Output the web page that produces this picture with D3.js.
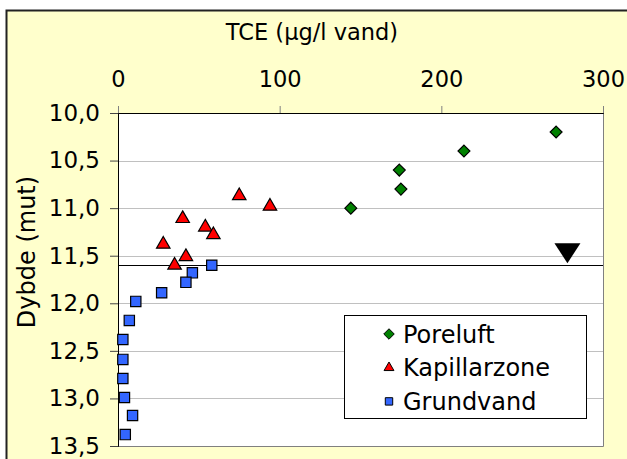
<!DOCTYPE html>
<html lang="da">
    <head>
        <meta charset="utf-8"/>
        <script src="https://d3js.org/d3.v7.min.js"></script>
        <style>
            body { margin: 0; background: #fff; }
            text { font-family: "DejaVu Sans", Verdana, sans-serif; fill: #000; }
        </style>
    </head>
    <body>
        <div id="chart"></div>
    </body>
    <script>
        // TCE koncentration mod dybde
        var xTicks = [0, 100, 200, 300];
        var yTicks = [10.0, 10.5, 11.0, 11.5, 12.0, 12.5, 13.0, 13.5];

        var poreluftTCE   = [271, 214, 174, 175, 144];
        var poreluftDybde = [10.2, 10.4, 10.6, 10.8, 11.0];

        var kapillarTCE   = [75, 94, 40, 54, 59, 28, 42, 35];
        var kapillarDybde = [10.87, 10.98, 11.11, 11.2, 11.28, 11.38, 11.51, 11.6];

        var grundvandTCE   = [58, 46, 42, 27, 11, 7, 3, 3, 3, 4, 9, 4.5];
        var grundvandDybde = [11.6, 11.68, 11.78, 11.89, 11.98, 12.18, 12.38, 12.59, 12.79, 12.99, 13.18, 13.38];

        var vandspejl = 11.6;
        var vandspejlX = 278;

        var series = ["Poreluft", "Kapillarzone", "Grundvand"];

        var width = 627, height = 459;
        var margin = {top: 113, right: 24, bottom: 13, left: 118};
        var w = width - margin.left - margin.right;
        var h = height - margin.top - margin.bottom;

        var svg = d3.select("#chart")
            .append("svg")
                .attr("width", width)
                .attr("height", height);

        // chart area
        svg.append("rect")
            .attr("x", 6.5).attr("y", 10.5)
            .attr("width", width + 20).attr("height", height + 20)
            .attr("fill", "#ffffcc")
            .attr("stroke", "#222")
            .attr("stroke-width", 2);

        var g = svg.append("g")
            .attr("transform", "translate(" + margin.left + "," + margin.top + ")");

        var x = d3.scaleLinear().domain([0, 300]).range([0, w]);
        var y = d3.scaleLinear().domain([10, 13.5]).range([0, h]);

        g.append("rect")
            .attr("width", w).attr("height", h)
            .attr("fill", "#fff");

        // gridlines
        g.append("g")
            .selectAll("line")
            .data(yTicks.slice(1, -1))
            .enter()
            .append("line")
                .attr("x1", 0).attr("x2", w)
                .attr("y1", function (d) { return Math.round(y(d)) + 0.5; })
                .attr("y2", function (d) { return Math.round(y(d)) + 0.5; })
                .attr("stroke", "#c0c0c0");

        // right + bottom border
        g.append("path")
            .attr("d", "M" + (w + 0.5) + ",0V" + (h + 0.5) + "H0")
            .attr("fill", "none")
            .attr("stroke", "#808080");

        var fmt = function (d) { return d3.format(".1f")(d).replace(".", ","); };

        var xAxis = g.append("g")
            .call(d3.axisTop(x).tickValues(xTicks).tickSize(7).tickPadding(19));
        xAxis.selectAll("text").style("font-size", "22.5px");
        xAxis.selectAll(".tick line").attr("stroke", "#808080");
        xAxis.select(".domain").attr("stroke", "#000");

        var yAxis = g.append("g")
            .call(d3.axisLeft(y).tickValues(yTicks).tickFormat(fmt).tickSize(8).tickPadding(10));
        yAxis.selectAll("text").style("font-size", "23px");
        yAxis.selectAll(".tick line").attr("stroke", "#444");
        yAxis.select(".domain").attr("stroke", "#000");

        svg.append("text")
            .attr("x", 312).attr("y", 40)
            .attr("text-anchor", "middle")
            .style("font-size", "22.5px")
            .text("TCE (μg/l vand)");

        svg.append("text")
            .attr("transform", "translate(35,252) rotate(-90)")
            .attr("text-anchor", "middle")
            .style("font-size", "24px")
            .text("Dybde (mut)");

        // vandspejl
        g.append("line")
            .attr("x1", 0).attr("x2", w)
            .attr("y1", Math.round(y(vandspejl)) + 0.5)
            .attr("y2", Math.round(y(vandspejl)) + 0.5)
            .attr("stroke", "#000");

        g.append("path")
            .attr("transform", "translate(" + x(vandspejlX) + "," + y(vandspejl) + ")")
            .attr("d", "M0,-2L-13,-22H13Z")
            .attr("fill", "#000");

        var diamond = d3.symbol().type(d3.symbolDiamond2);
        var triangle = d3.symbol().type(d3.symbolTriangle2);
        var square = d3.symbol().type(d3.symbolSquare2);

        var colors = ["#008000", "#ff0000", "#3366ff"];
        var shapes = [diamond, triangle, square];

        function drawSeries(xs, ys, i, size) {
            g.append("g")
                .selectAll("path")
                .data(d3.zip(xs, ys))
                .enter()
                .append("path")
                    .attr("transform", function (d) { return "translate(" + x(d[0]) + "," + y(d[1]) + ")"; })
                    .attr("d", shapes[i].size(size))
                    .attr("fill", colors[i])
                    .attr("stroke", "#000")
                    .attr("stroke-width", 1.2);
        }

        drawSeries(poreluftTCE, poreluftDybde, 0, 90);
        drawSeries(kapillarTCE, kapillarDybde, 1, 130);
        drawSeries(grundvandTCE, grundvandDybde, 2, 135);

        // legend
        var legend = svg.append("g").attr("transform", "translate(344,315)");
        legend.append("rect")
            .attr("x", 0.5).attr("y", 0.5)
            .attr("width", 242).attr("height", 103)
            .attr("fill", "#fff")
            .attr("stroke", "#000");

        var rows = legend.selectAll("g.row")
            .data(series)
            .enter()
            .append("g")
                .attr("class", "row")
                .attr("transform", function (d, i) { return "translate(0," + (19 + i * 33.7) + ")"; });

        rows.append("path")
            .attr("transform", "translate(45,0)")
            .attr("d", function (d, i) { return shapes[i].size(70)(); })
            .attr("fill", function (d, i) { return colors[i]; })
            .attr("stroke", "#000");

        rows.append("text")
            .attr("x", 59).attr("y", 0)
            .attr("dy", "0.36em")
            .style("font-size", "24px")
            .text(function (d) { return d; });
    </script>
</html>
